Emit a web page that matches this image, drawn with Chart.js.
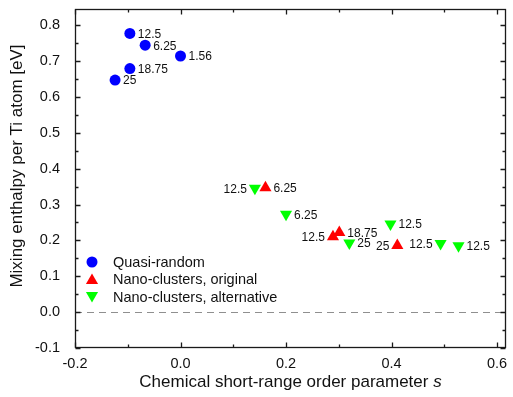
<!DOCTYPE html>
<html>
<head>
<meta charset="utf-8">
<script src="https://cdn.jsdelivr.net/npm/chart.js@4.4.0/dist/chart.umd.min.js"></script>
<style>
  html, body { margin: 0; padding: 0; background: #fff; }
</style>
</head>
<body>
<canvas id="mixChart" width="513" height="397"></canvas>
<script>
const seriesNames = ['Quasi-random', 'Nano-clusters, original', 'Nano-clusters, alternative'];

// quasi-random
const randomS = [-0.096, -0.067, 0.0, -0.096, -0.124];
const randomH = [0.777, 0.744, 0.714, 0.679, 0.647];
const randomLabels = ['12.5', '6.25', '1.56', '18.75', '25'];
const randomSides = ['r', 'r', 'r', 'r', 'r'];

// nano-clusters, original
const originalS = [0.161, 0.289, 0.301, 0.411];
const originalH = [0.347, 0.210, 0.222, 0.186];
const originalLabels = ['6.25', '12.5', '18.75', '25'];
const originalSides = ['r', 'l', 'r', 'l'];

// nano-clusters, alternative
const altS = [0.141, 0.200, 0.320, 0.398, 0.493, 0.527];
const altH = [0.345, 0.273, 0.193, 0.246, 0.191, 0.185];
const altLabels = ['12.5', '6.25', '25', '12.5', '12.5', '12.5'];
const altSides = ['l', 'r', 'r', 'r', 'l', 'r'];

const xTicks = [-0.2, 0.0, 0.2, 0.4, 0.6];
const xMinor = [-0.1, 0.1, 0.3, 0.5];
const yTicks = [-0.1, 0.0, 0.1, 0.2, 0.3, 0.4, 0.5, 0.6, 0.7, 0.8];
const yMinor = [-0.05, 0.05, 0.15, 0.25, 0.35, 0.45, 0.55, 0.65, 0.75];

const FONT = '"Liberation Sans", Arial, sans-serif';

function toPoints(xs, ys) {
    return xs.map((v, i) => ({ x: v, y: ys[i] }));
}

const pointLabels = [randomLabels, originalLabels, altLabels];
const labelSides = [randomSides, originalSides, altSides];

// no extra room for overhanging tick labels, the frame is fixed
function noScalePadding(scale) {
    scale.paddingLeft = 0;
    scale.paddingRight = 0;
    scale.paddingTop = 0;
    scale.paddingBottom = 0;
}

const decor = {
    id: 'decor',
    beforeDatasetsDraw(chart) {
        const { ctx, chartArea: a, scales: { y } } = chart;
        const y0 = Math.round(y.getPixelForValue(0)) + 0.5;
        ctx.save();
        ctx.strokeStyle = '#8f8f8f';
        ctx.lineWidth = 1;
        ctx.setLineDash([7, 5]);
        ctx.beginPath();
        ctx.moveTo(a.left, y0);
        ctx.lineTo(a.right, y0);
        ctx.stroke();
        ctx.restore();
    },
    afterDatasetsDraw(chart) {
        const ctx = chart.ctx;
        ctx.save();
        ctx.font = '12px ' + FONT;
        ctx.fillStyle = '#111';
        ctx.textBaseline = 'middle';
        chart.data.datasets.forEach((ds, di) => {
            const meta = chart.getDatasetMeta(di);
            meta.data.forEach((pt, i) => {
                const side = labelSides[di][i];
                ctx.textAlign = side === 'r' ? 'left' : 'right';
                const dx = side === 'r' ? 8 : -8;
                ctx.fillText(pointLabels[di][i], pt.x + dx, pt.y + 1);
            });
        });
        ctx.restore();
    },
    afterDraw(chart) {
        const { ctx, chartArea: a, scales: { x, y } } = chart;
        const L = Math.round(a.left) + 0.5, R = Math.round(a.right) - 0.5;
        const T = Math.round(a.top) + 0.5, B = Math.round(a.bottom) - 0.5;
        ctx.save();
        ctx.strokeStyle = '#1a1a1a';
        ctx.lineWidth = 1.3;
        ctx.strokeRect(L, T, R - L, B - T);

        // inward ticks on all four sides
        ctx.beginPath();
        const xTick = (v, len) => {
            const px = Math.round(x.getPixelForValue(v)) + 0.5;
            ctx.moveTo(px, B); ctx.lineTo(px, B - len);
            ctx.moveTo(px, T); ctx.lineTo(px, T + len);
        };
        const yTick = (v, len) => {
            const py = Math.round(y.getPixelForValue(v)) + 0.5;
            ctx.moveTo(L, py); ctx.lineTo(L + len, py);
            ctx.moveTo(R, py); ctx.lineTo(R - len, py);
        };
        xTicks.forEach(v => xTick(v, 5));
        xMinor.forEach(v => xTick(v, 3));
        yTicks.forEach(v => yTick(v, 5));
        yMinor.forEach(v => yTick(v, 3));
        ctx.stroke();

        // legend inside plot
        const rows = [262, 279, 297];
        ctx.font = '14.5px ' + FONT;
        ctx.textAlign = 'left';
        ctx.textBaseline = 'middle';
        chart.data.datasets.forEach((ds, di) => {
            const cy = rows[di];
            ctx.fillStyle = ds.backgroundColor;
            Chart.helpers.drawPoint(ctx, {
                pointStyle: ds.pointStyle,
                radius: ds.pointRadius,
                rotation: ds.rotation || 0,
                borderWidth: 0
            }, 92, cy + (di === 1 ? 1.5 : di === 2 ? -1.5 : 0));
            ctx.fillStyle = '#111';
            ctx.fillText(seriesNames[di], 113, cy + 1);
        });

        // axis titles
        ctx.fillStyle = '#111';
        ctx.textBaseline = 'middle';
        const main = 'Chemical short-range order parameter ';
        ctx.font = '17px ' + FONT;
        const w1 = ctx.measureText(main).width;
        ctx.font = 'italic 17px ' + FONT;
        const w2 = ctx.measureText('s').width;
        const cx = (a.left + a.right) / 2;
        const sx = cx - (w1 + w2) / 2;
        ctx.font = '17px ' + FONT;
        ctx.textAlign = 'left';
        ctx.fillText(main, sx, 382);
        ctx.font = 'italic 17px ' + FONT;
        ctx.fillText('s', sx + w1, 382);

        ctx.translate(17, 166);
        ctx.rotate(-Math.PI / 2);
        ctx.font = '17px ' + FONT;
        ctx.textAlign = 'center';
        ctx.fillText('Mixing enthalpy per Ti atom [eV]', 0, 0);
        ctx.restore();
    }
};

const ctx = document.getElementById('mixChart').getContext('2d');
const mixChart = new Chart(ctx, {
    type: 'scatter',
    data: {
        datasets: [{
            label: seriesNames[0],
            data: toPoints(randomS, randomH),
            pointStyle: 'circle',
            pointRadius: 5.5,
            backgroundColor: '#0000ff',
            borderWidth: 0
        }, {
            label: seriesNames[1],
            data: toPoints(originalS, originalH),
            pointStyle: 'triangle',
            pointRadius: 7,
            backgroundColor: '#ff0000',
            borderWidth: 0
        }, {
            label: seriesNames[2],
            data: toPoints(altS, altH),
            pointStyle: 'triangle',
            rotation: 180,
            pointRadius: 7,
            backgroundColor: '#00ff00',
            borderWidth: 0
        }]
    },
    options: {
        responsive: false,
        devicePixelRatio: 1,
        animation: false,
        layout: { padding: { top: 9, right: 2, left: 0, bottom: 0 } },
        plugins: {
            legend: { display: false },
            tooltip: { enabled: false }
        },
        scales: {
            x: {
                type: 'linear',
                min: -0.2,
                max: 0.617,
                afterBuildTicks: scale => { scale.ticks = xTicks.map(v => ({ value: v })); },
                afterFit: scale => { scale.height = 49; noScalePadding(scale); },
                grid: { display: false, drawTicks: false },
                border: { display: false },
                ticks: {
                    padding: 7,
                    color: '#111',
                    font: { family: FONT, size: 14.5 },
                    maxRotation: 0,
                    callback: v => v.toFixed(1)
                }
            },
            y: {
                type: 'linear',
                min: -0.1,
                max: 0.845,
                afterBuildTicks: scale => { scale.ticks = yTicks.map(v => ({ value: v })); },
                afterFit: scale => { scale.width = 75; noScalePadding(scale); },
                grid: { display: false, drawTicks: false },
                border: { display: false },
                ticks: {
                    padding: 15,
                    color: '#111',
                    font: { family: FONT, size: 14.5 },
                    callback: v => v.toFixed(1)
                }
            }
        }
    },
    plugins: [decor]
});
</script>
</body>
</html>
